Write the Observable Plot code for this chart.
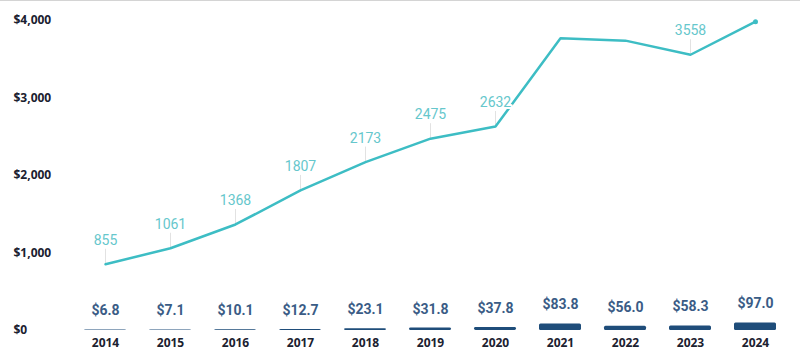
<!DOCTYPE html>
<html><head><meta charset="utf-8">
<script src="https://cdn.jsdelivr.net/npm/d3@7"></script>
<script src="https://cdn.jsdelivr.net/npm/@observablehq/plot@0.6"></script>
<style>
body{margin:0;background:#fff;}
#wrap{position:relative;width:800px;height:354px;}
#topline{position:absolute;left:0;top:0;width:800px;height:1px;background:#d4d4d4;}
#wrap svg{display:block;}
</style></head><body><div id="wrap"><div id="topline"></div></div>
<script>
const years = ["2014","2015","2016","2017","2018","2019","2020","2021","2022","2023","2024"];
const lineValues = [855,1061,1368,1807,2173,2475,2632,3770,3740,3558,3985];
const lineLabels = ["855","1061","1368","1807","2173","2475","2632","","","3558",""];
const barValues = [6.8,7.1,10.1,12.7,23.1,31.8,37.8,83.8,56.0,58.3,97.0];
const barLabels = ["$6.8","$7.1","$10.1","$12.7","$23.1","$31.8","$37.8","$83.8","$56.0","$58.3","$97.0"];
const yTicks = [0,1000,2000,3000,4000];

const data = years.map((year, i) => ({
  year, line: lineValues[i], lineLabel: lineLabels[i], bar: barValues[i], barLabel: barLabels[i]
}));
const labeled = data.filter(d => d.lineLabel !== "");
const last = [data[data.length - 1]];

const chart = Plot.plot({
  width: 800,
  height: 354,
  marginLeft: 60,
  marginRight: 0,
  marginTop: 20,
  marginBottom: 24,
  style: {fontFamily: "Roboto", background: "transparent"},
  x: {domain: years, paddingInner: 0.35, paddingOuter: 0.29, label: null},
  y: {domain: [0, 4000], label: null},
  marks: [
    Plot.barY(data, {x: "year", y: "bar", fill: "#1f4d7a", rx: 1.5}),
    Plot.ruleX(labeled, {x: "year", y1: "line", y2: "line", insetTop: 0, insetBottom: 15, stroke: "#e2e2e2", strokeWidth: 1}),
    Plot.line(data, {x: "year", y: "line", stroke: "#3dbdc4", strokeWidth: 2.5, curve: "linear"}),
    Plot.dot(last, {x: "year", y: "line", r: 2.5, fill: "#3dbdc4", symbol: "circle"}),
    Plot.text(labeled, {x: "year", y: "line", text: "lineLabel", dy: -24, fill: "#66c7cc", fontSize: 14, stroke: "white", strokeWidth: 4, fontFamily: "Roboto"}),
    Plot.text(data, {x: "year", y: "bar", text: "barLabel", dy: -19, fill: "#3a5c86", fontSize: 14, fontWeight: "bold", fontFamily: "Roboto"}),
    Plot.axisY(yTicks, {tickSize: 0, tickPadding: 0, textAnchor: "start", dx: -47, tickFormat: d => "$" + d3.format(",")(d), fontSize: 12, fontWeight: "bold", fill: "#1b2130", fontFamily: "Open Sans", label: null}),
    Plot.axisX({tickSize: 0, tickPadding: 8, fontSize: 12, fontWeight: "bold", fill: "#1b2130", fontFamily: "Open Sans", label: null})
  ]
});
document.getElementById("wrap").appendChild(chart);
</script>
</body></html>
